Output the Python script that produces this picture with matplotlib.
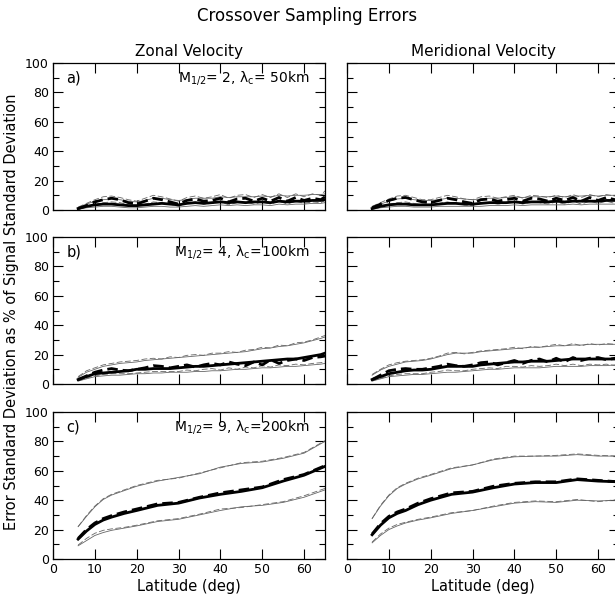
import numpy as np
import matplotlib
matplotlib.use('Agg')
import matplotlib.pyplot as plt
from matplotlib.ticker import MultipleLocator

# latitude grids
lat_ab = [6, 8, 10, 12, 14, 16, 18, 20, 22, 24, 26, 28, 30, 32, 34, 36, 38, 40,
          42, 44, 46, 48, 50, 52, 54, 56, 58, 60, 62, 64, 65]
lat_c = [6, 8, 10, 12, 14, 17, 20, 25, 30, 35, 40, 45, 50, 55, 60, 65]

# panel a, zonal
a_u_mean = [1, 2.5, 3.5, 4, 4, 3.5, 3, 3, 3.5, 4, 4.5, 4, 3.5, 4.5, 5, 4.5, 5, 5.5,
            5, 5.5, 5, 5.5, 5.5, 5, 6, 5.5, 6, 6, 6.5, 6.5, 7]
a_u_dash = [1, 3, 5.5, 7, 8, 7, 5, 4, 6, 8, 7, 5.5, 4, 6.5, 7.5, 6, 6.5, 8,
            5.5, 7.5, 8, 6, 8, 6, 8.5, 6, 8.5, 6.5, 8, 7, 9]
a_u_hi = [1.5, 4, 6, 7, 7.5, 7, 6, 5.5, 6.5, 8, 8, 7, 6.5, 7, 8, 8, 8, 9,
          8.5, 9, 9, 9, 9.5, 9, 10, 9.5, 10, 10, 10.5, 10.5, 11]
a_u_hi_d = [2, 4.5, 7, 9, 9.5, 8.5, 7, 6, 8, 10, 9, 7.5, 6, 8.5, 9.5, 8, 9, 10.5,
            8, 10, 10.5, 8.5, 10.5, 8.5, 11, 8.5, 11, 9, 11, 10, 13]
a_u_lo = [0.5, 1.5, 2, 2.5, 2.5, 2, 1.5, 1.5, 2, 2.5, 2.5, 2, 2, 2.5, 3, 2.5, 3, 3.5,
          3, 3.5, 3, 3.5, 3.5, 3, 4, 3.5, 4, 4, 4.5, 4.5, 5]
a_u_lo_d = [0.5, 2, 3.5, 5, 5.5, 5, 3.5, 2.5, 4, 5.5, 5, 4, 2.5, 4.5, 5.5, 4, 4.5, 5.5,
            3.5, 5, 5.5, 4, 5.5, 4, 6, 4, 6, 4.5, 5.5, 5, 6.5]

# panel a, meridional
a_v_mean = [1, 2.5, 3.5, 4, 4, 3.5, 3.5, 3.5, 4, 4.5, 4.5, 4, 4, 4.5, 5, 5, 5, 5.5,
            5, 5.5, 5.5, 5.5, 6, 5.5, 6, 6, 6, 6, 6.5, 6.5, 7]
a_v_dash = [1.5, 4, 6.5, 8, 8.5, 7, 5.5, 5, 6.5, 8, 7, 5.5, 4.5, 7, 7.5, 6, 7, 8,
            6, 8, 7.5, 6, 8, 6.5, 8.5, 6, 8.5, 6.5, 8.5, 7, 8]
a_v_hi = [2, 4, 6, 7.5, 8, 7, 6.5, 6.5, 7, 8, 8, 7.5, 7, 7.5, 8, 8, 8.5, 9,
          8.5, 9, 9, 9, 9.5, 9, 9.5, 9.5, 10, 9.5, 10, 10, 10]
a_v_hi_d = [2.5, 5, 7.5, 9.5, 10, 8.5, 7, 7, 8.5, 10, 9, 7.5, 7, 9, 9.5, 8, 9, 10,
            8, 10, 9.5, 8.5, 10, 8.5, 10.5, 8.5, 10.5, 9, 10.5, 9.5, 10]
a_v_lo = [0.5, 1.5, 2, 2.5, 2.5, 2, 2, 2, 2.5, 2.5, 2.5, 2.5, 2.5, 2.5, 3, 3, 3, 3.5,
          3, 3.5, 3.5, 3.5, 3.5, 3.5, 4, 3.5, 4, 4, 4, 4, 4.5]
a_v_lo_d = [0.5, 2.5, 4, 5, 5.5, 4.5, 3.5, 3, 4.5, 5.5, 4.5, 3.5, 3, 5, 5, 4, 4.5, 5.5,
            4, 5.5, 5, 4, 5.5, 4, 6, 4, 6, 4.5, 6, 4.5, 5.5]

# panel b, zonal
b_u_mean = [3, 5, 7, 7.5, 8, 8.5, 9, 10, 10, 10.5, 10.5, 10.5, 11, 11.5, 12, 12, 12.5, 13,
            13.5, 14, 14.5, 15, 15.5, 16, 16.5, 17, 17, 18, 19, 20, 21]
b_u_dash = [3, 5.5, 8, 9.5, 10.5, 9.5, 9, 10, 11, 12.5, 12, 11, 12, 13, 11.5, 13, 14, 13,
            15, 13.5, 12.5, 15, 13, 16.5, 14, 16, 17, 16, 18, 18.5, 19]
b_u_hi = [4.5, 8, 10, 12, 13, 14, 14.5, 15, 16, 16.5, 17, 17.5, 18, 18.5, 19, 19.5, 20, 20.5,
          21, 21.5, 22, 23, 24, 24.5, 25.5, 26, 27, 28, 29.5, 31, 32]
b_u_hi_d = [5, 9, 11, 13, 14, 15, 15.5, 16, 17, 17.5, 17, 18.5, 18, 19.5, 20, 19.5, 21, 21,
            22, 21.5, 23, 23.5, 25, 24.5, 26.5, 26, 28, 28.5, 30, 32, 33]
b_u_lo = [2, 3.5, 5, 5.5, 6, 6, 6.5, 7, 7, 7.5, 7.5, 8, 8, 8, 8.5, 8.5, 9, 9,
          9.5, 10, 10, 10.5, 11, 11, 11.5, 12, 12, 12.5, 13, 13.5, 14]
b_u_lo_d = [2, 4, 5.5, 6.5, 7, 7, 7, 7.5, 8, 8.5, 8.5, 8.5, 8.5, 9.5, 9, 10, 10.5, 9.5,
            11, 10, 11.5, 11, 12.5, 11.5, 13, 12.5, 13.5, 13, 14, 14.5, 15]

# panel b, meridional
b_v_mean = [3, 5, 7, 8, 9, 9.5, 9.5, 10, 11, 12, 12, 12, 12, 13, 13.5, 14, 14.5, 15,
            15, 15.5, 15.5, 15.5, 16, 16.5, 17, 17, 17, 17, 17, 17, 17]
b_v_dash = [3, 6, 9, 10, 10.5, 10, 10, 11, 12, 13.5, 12.5, 12, 13, 14.5, 15, 13, 14.5, 16,
            14, 16, 17, 15, 17.5, 15, 18, 16, 17.5, 18, 16.5, 17.5, 18]
b_v_hi = [6, 9.5, 12, 13.5, 15, 15.5, 16, 17, 18.5, 20, 21, 21, 21, 22, 22.5, 23, 23.5, 24,
          24.5, 25, 25, 25.5, 26, 26, 26.5, 26.5, 27, 27, 27, 27, 27]
b_v_hi_d = [6.5, 10, 13, 14.5, 15.5, 16, 16.5, 17.5, 19, 21, 21.5, 20.5, 21.5, 22.5, 23, 23.5, 24, 25,
            24, 25.5, 25, 26, 27, 26, 27.5, 26, 27.5, 26.5, 27.5, 27, 27.5]
b_v_lo = [2, 3.5, 5, 5.5, 6, 6.5, 6.5, 7, 7.5, 8, 8, 8.5, 9, 9.5, 10, 10, 10.5, 11,
          11, 11, 11, 11.5, 12, 12, 12, 12, 12.5, 12.5, 12.5, 13, 13]
b_v_lo_d = [2, 4, 5.5, 6.5, 7, 7, 7, 8, 8.5, 9.5, 9, 9, 10, 10.5, 11, 10.5, 12, 12,
            11.5, 12.5, 12, 12.5, 13.5, 12.5, 13.5, 12.5, 13.5, 13, 13.5, 12.5, 13.5]

# panel c, zonal
c_u_mean = [13.5, 19, 23.5, 26.5, 28.5, 31, 33, 36.5, 38, 41.5, 44, 46, 48.5, 53, 57, 63]
c_u_dash = [14, 20, 24.5, 27.5, 29.5, 32, 34, 37.5, 38.5, 42, 45, 47, 49, 54, 57.5, 63.5]
c_u_hi = [22, 29, 35.5, 40.5, 43.5, 46.5, 49.5, 53, 55.5, 58, 62.5, 65, 66, 68.5, 72, 80]
c_u_hi_d = [22, 29.5, 36, 41, 44, 47, 50, 53.5, 55, 58.5, 62, 65.5, 66.5, 69, 72.5, 80.5]
c_u_lo = [9, 12.5, 16, 18, 19.5, 21, 22.5, 25.5, 27, 30, 33, 35.5, 36.5, 38.5, 42, 47]
c_u_lo_d = [9.5, 14, 17.5, 19.5, 20.5, 21.5, 23, 26, 27.5, 30.5, 34, 35, 37, 39, 43, 48]

# panel c, meridional
c_v_mean = [16.5, 23, 28, 31, 33, 37, 40, 44, 45.5, 48.5, 51, 52, 52, 54, 53, 52.5]
c_v_dash = [17, 24, 29, 32, 34, 38, 41, 45, 46, 49.5, 51.5, 52.5, 52.5, 54.5, 53.5, 52.5]
c_v_hi = [27.5, 36, 43, 48, 51, 54.5, 57, 61.5, 64, 67.5, 69.5, 70, 70, 71, 70, 70]
c_v_hi_d = [27.5, 36.5, 43.5, 48.5, 51.5, 55, 57.5, 62, 64, 68, 70, 70, 70.5, 71.5, 70.5, 70]
c_v_lo = [11, 16, 20, 22.5, 24.5, 26.5, 28, 31, 33, 35.5, 38, 39, 38.5, 40, 39.5, 40]
c_v_lo_d = [11.5, 17, 21, 23.5, 25, 27, 28.5, 31.5, 33, 36, 38.5, 39.5, 39, 40.5, 39, 40.5]

panels = [
    (lat_ab, [a_u_mean, a_u_dash, a_u_hi, a_u_hi_d, a_u_lo, a_u_lo_d],
             [a_v_mean, a_v_dash, a_v_hi, a_v_hi_d, a_v_lo, a_v_lo_d],
     'a)', r'M$_{1/2}$= 2, λ$_{\rm c}$= 50km'),
    (lat_ab, [b_u_mean, b_u_dash, b_u_hi, b_u_hi_d, b_u_lo, b_u_lo_d],
             [b_v_mean, b_v_dash, b_v_hi, b_v_hi_d, b_v_lo, b_v_lo_d],
     'b)', r'M$_{1/2}$= 4, λ$_{\rm c}$=100km'),
    (lat_c, [c_u_mean, c_u_dash, c_u_hi, c_u_hi_d, c_u_lo, c_u_lo_d],
            [c_v_mean, c_v_dash, c_v_hi, c_v_hi_d, c_v_lo, c_v_lo_d],
     'c)', r'M$_{1/2}$= 9, λ$_{\rm c}$=200km'),
]

plt.rcParams['font.family'] = ['DejaVu Sans']
plt.rcParams['mathtext.fontset'] = 'dejavusans'

fig = plt.figure(figsize=(6.15, 6.03), dpi=100)
W, H = 615.0, 603.0
lefts = [53, 347]
widths = [272, 272]
bottoms = [210, 384, 559]
ph = 147

def draw_lines(ax, x, ys):
    mean, dash, hi, hi_d, lo, lo_d = ys
    thin = dict(color='#666666', lw=0.6)
    ax.plot(x, hi, '-', **thin)
    ax.plot(x, lo, '-', **thin)
    ax.plot(x, hi_d, '--', dashes=(7, 3), **thin)
    ax.plot(x, lo_d, '--', dashes=(7, 3), **thin)
    ax.plot(x, mean, '-', color='black', lw=2.0)
    ax.plot(x, dash, '--', color='black', lw=2.0, dashes=(3.8, 1.8))

for r, (x, zon, mer, lab, txt) in enumerate(panels):
    for c in range(2):
        ax = fig.add_axes([lefts[c] / W, 1 - bottoms[r] / H, widths[c] / W, ph / H])
        draw_lines(ax, x, zon if c == 0 else mer)
        ax.set_xlim(0, 65)
        ax.set_ylim(0, 100)
        ax.xaxis.set_major_locator(MultipleLocator(10))
        ax.yaxis.set_major_locator(MultipleLocator(20))
        ax.yaxis.set_minor_locator(MultipleLocator(10))
        ax.tick_params(which='both', direction='in', top=True, right=True,
                       labelsize=9, pad=3, width=0.8)
        ax.tick_params(which='major', length=7.5)
        ax.tick_params(which='minor', length=4)
        for s in ax.spines.values():
            s.set_linewidth(0.9)
        if c == 1:
            ax.tick_params(labelleft=False)
        if r < 2:
            ax.tick_params(labelbottom=False)
        else:
            ax.set_xlabel('Latitude (deg)', fontsize=10.5, labelpad=2)
        if c == 0:
            ax.text(0.05, 0.9, lab, transform=ax.transAxes, fontsize=10.5, va='center')
            ax.text(0.945, 0.9, txt, transform=ax.transAxes, fontsize=10, va='center', ha='right')
        if r == 0:
            ax.set_title(['Zonal Velocity', 'Meridional Velocity'][c], fontsize=11, pad=5)

fig.text(0.5, 1 - 16 / H, 'Crossover Sampling Errors', ha='center', va='center', fontsize=12)
fig.text(12 / W, 1 - 312 / H, 'Error Standard Deviation as % of Signal Standard Deviation',
         rotation=90, ha='center', va='center', fontsize=10.5)

fig.savefig('out.png', dpi=100)
